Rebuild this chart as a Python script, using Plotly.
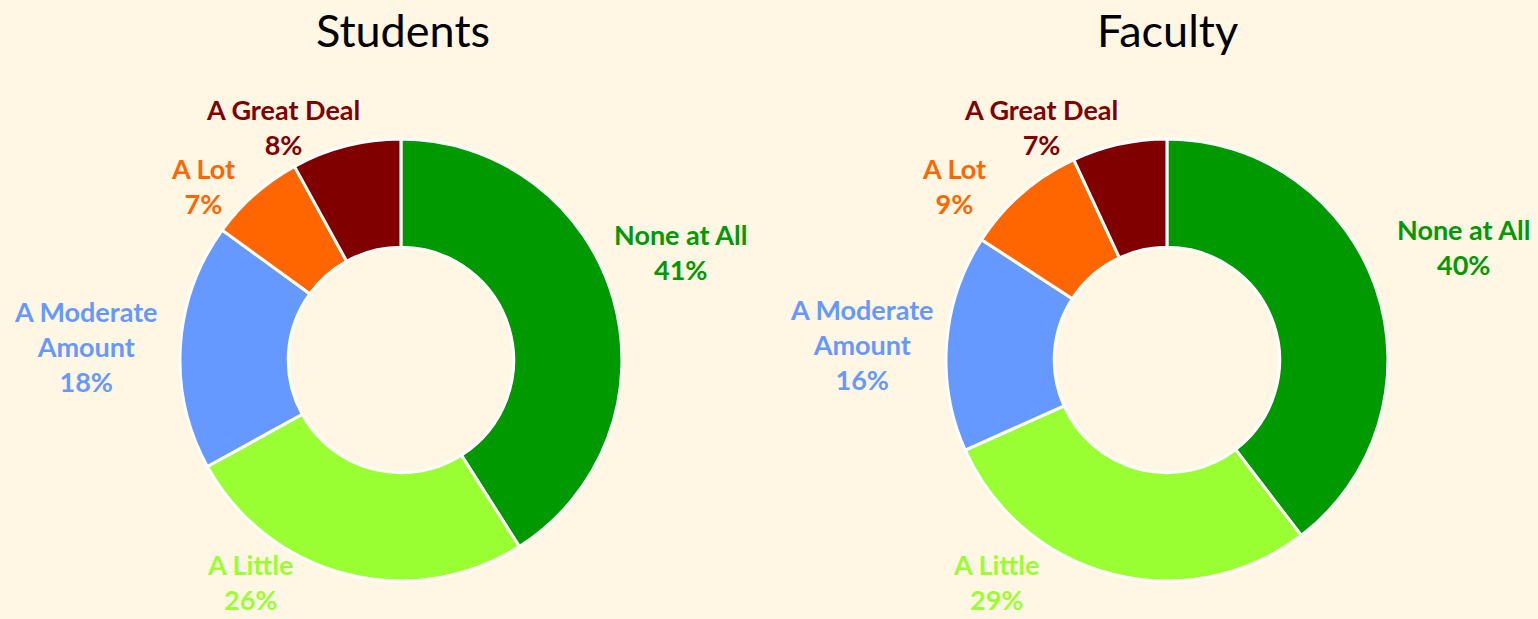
import plotly.graph_objects as go

categories = ["None at All", "A Little", "A Moderate<br>Amount", "A Lot", "A Great Deal"]
students = [41, 26, 18, 7, 8]
faculty = [40, 29, 16, 9, 7]
titles = ["Students", "Faculty"]
colors = ["#009900", "#99FF33", "#6699FF", "#FF6600", "#800000"]
BG = "#FFF6E4"

W, H = 1538, 619
# pie domains (paper fractions)
domains = [dict(x=[0.117, 0.4044], y=[0.0614, 0.7754]),
           dict(x=[0.6144, 0.9031], y=[0.0614, 0.7754])]
# label block centres in pixels (layout only), one list per pie, in category order
label_pos = [
    [(680, 252), (250, 582), (86, 346), (203, 186), (283, 127)],
    [(1463, 247), (996, 582), (862, 344), (954, 186), (1041, 127)],
]
title_pos = [(403, 30), (1167, 30)]

fig = go.Figure()
for vals, dom in zip([students, faculty], domains):
    fig.add_trace(go.Pie(
        labels=categories, values=vals, textinfo="none",
        hole=0.51, sort=False, direction="clockwise", rotation=0,
        marker=dict(colors=colors, line=dict(color="white", width=3)),
        domain=dom, showlegend=False, hoverinfo="label+value",
    ))

for vals, positions in zip([students, faculty], label_pos):
    for cat, v, col, (px, py) in zip(categories, vals, colors, positions):
        fig.add_annotation(text=f"{cat}<br>{v}%", x=px / W, y=1 - py / H,
                           xref="paper", yref="paper", showarrow=False,
                           xanchor="center", yanchor="middle", align="center",
                           font=dict(family="Lato", size=27, color=col, weight="bold"))

for t, (px, py) in zip(titles, title_pos):
    fig.add_annotation(text=t, x=px / W, y=1 - py / H,
                       xref="paper", yref="paper", showarrow=False,
                       xanchor="center", yanchor="middle",
                       font=dict(family="Lato", size=45, color="black"))

fig.update_layout(width=W, height=H, margin=dict(l=0, r=0, t=0, b=0, autoexpand=False),
                  paper_bgcolor=BG, plot_bgcolor=BG, showlegend=False,
                  font=dict(family="Lato"))
post = "document.body.style.margin='0';"
fig.write_html("out.html", post_script=post, config={"displayModeBar": False})
